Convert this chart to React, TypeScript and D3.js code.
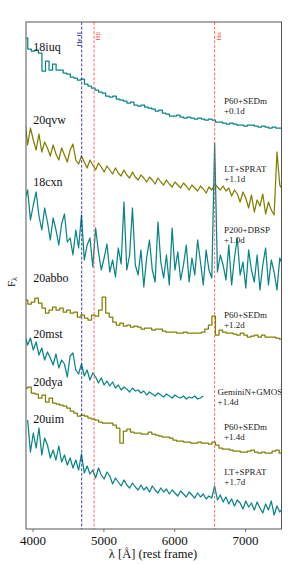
import React from 'react';
import * as d3 from 'd3';

// ---------- data ----------
const names = ['18iuq', '20qvw', '18cxn', '20abbo', '20mst', '20dya', '20uim'];
const instruments = ['P60+SEDm', 'LT+SPRAT', 'P200+DBSP', 'P60+SEDm', 'GeminiN+GMOS', 'P60+SEDm', 'LT+SPRAT'];
const phases = ['+0.1d', '+1.1d', '+1.0d', '+1.2d', '+1.4d', '+1.4d', '+1.7d'];
const lowRes = [true, false, false, true, false, true, false];
const waveStart = [3900, 3883, 3883, 3900, 3883, 3900, 3923];
const waveStep = [50, 40, 40, 50, 40, 50, 40];

const flux18iuq = [5.62,5.51,5.49,5.50,5.47,5.29,5.39,5.30,5.36,5.30,5.30,5.27,5.26,5.23,5.22,5.20,5.21,5.16,5.14,5.12,5.10,5.08,5.07,5.04,5.03,5.04,5.01,5.00,4.99,4.97,4.98,4.95,4.94,4.95,4.93,4.92,4.91,4.89,4.90,4.87,4.86,4.84,4.84,4.85,4.83,4.82,4.83,4.82,4.81,4.82,4.81,4.80,4.81,4.80,4.78,4.78,4.77,4.76,4.77,4.76,4.75,4.75,4.74,4.75,4.75,4.74,4.73,4.74,4.73,4.72,4.73,4.72,4.72];
const flux20qvw = [4.81,4.55,4.72,4.60,4.50,4.66,4.48,4.58,4.52,4.44,4.55,4.46,4.40,4.52,4.45,4.38,4.50,4.56,4.40,4.36,4.44,4.38,4.32,4.40,4.35,4.30,4.37,4.33,4.28,4.34,4.30,4.26,4.32,4.27,4.24,4.30,4.25,4.22,4.28,4.23,4.20,4.25,4.22,4.18,4.23,4.20,4.16,4.22,4.18,4.15,4.20,4.16,4.13,4.18,4.15,4.12,4.17,4.14,4.10,4.15,4.12,4.09,4.14,4.11,4.07,4.13,4.10,4.16,4.13,4.10,4.14,4.09,4.12,4.04,4.10,4.06,3.98,4.08,4.02,3.92,4.05,3.88,4.00,3.94,4.06,3.86,3.98,3.90,3.85,4.48,4.15,4.10];
const flux18cxn = [4.00,4.10,3.80,3.95,4.08,3.84,3.70,3.92,3.78,3.60,3.82,3.70,3.55,3.76,3.86,3.58,3.62,3.45,3.70,3.52,3.85,3.40,3.55,3.62,3.33,3.72,3.48,3.30,3.42,3.56,3.28,3.40,3.23,3.52,3.36,3.98,3.30,3.45,3.92,3.35,3.25,3.50,3.13,3.42,3.60,3.30,3.18,3.78,3.38,3.22,3.45,3.15,3.72,3.30,3.48,3.20,3.35,3.55,3.18,3.42,3.25,3.60,3.38,3.15,3.50,3.30,3.22,4.57,3.28,3.45,3.35,3.20,3.55,3.15,3.42,3.62,3.25,3.38,3.12,3.50,3.30,3.18,3.45,3.10,3.35,3.52,3.15,3.40,3.28,3.10,3.42,3.35];
const flux20abbo = [3.00,2.96,2.98,3.02,2.97,2.92,2.87,2.90,2.93,2.90,2.92,2.88,2.90,2.87,2.88,2.83,2.85,2.82,2.80,2.85,2.84,2.90,3.03,2.87,2.83,2.78,2.75,2.77,2.74,2.75,2.73,2.74,2.73,2.71,2.72,2.72,2.70,2.71,2.71,2.69,2.68,2.68,2.68,2.67,2.67,2.68,2.67,2.67,2.67,2.67,2.68,2.71,2.75,2.84,2.65,2.70,2.68,2.67,2.67,2.66,2.65,2.67,2.65,2.63,2.64,2.65,2.63,2.65,2.63,2.63,2.63,2.62,2.61];
const flux20mst = [2.65,2.55,2.62,2.50,2.58,2.45,2.52,2.40,2.48,2.42,2.35,2.46,2.32,2.40,2.36,2.23,2.44,2.47,2.30,2.26,2.36,2.24,2.30,2.20,2.27,2.23,2.17,2.22,2.15,2.19,2.14,2.18,2.12,2.15,2.10,2.13,2.11,2.08,2.12,2.09,2.10,2.07,2.09,2.05,2.08,2.06,2.04,2.07,2.05,2.03,2.06,2.04,2.02,2.05,2.03,2.02,2.04,2.01,2.03,2.02,2.04,2.01,2.02,2.04];
const flux20dya = [2.12,2.13,2.07,2.06,2.02,2.05,1.98,2.02,1.97,1.96,1.95,1.94,1.92,1.89,1.87,1.84,1.85,1.84,1.82,1.81,1.80,1.78,1.77,1.77,1.77,1.75,1.72,1.57,1.69,1.71,1.68,1.67,1.67,1.66,1.66,1.68,1.66,1.65,1.64,1.63,1.63,1.62,1.60,1.59,1.59,1.58,1.58,1.57,1.57,1.58,1.57,1.57,1.56,1.58,1.55,1.52,1.51,1.51,1.50,1.49,1.49,1.48,1.48,1.49,1.50,1.48,1.47,1.48,1.47,1.47,1.49,1.50,1.47];
const flux20uim = [1.80,1.48,1.67,1.52,1.72,1.45,1.62,1.55,1.42,1.50,1.40,1.54,1.38,1.45,1.35,1.42,1.32,1.40,1.30,1.46,1.27,1.34,1.26,1.30,1.22,1.32,1.25,1.21,1.28,1.24,1.16,1.22,1.18,1.14,1.20,1.15,1.12,1.17,1.13,1.10,1.15,1.10,1.13,1.08,1.14,1.10,1.07,1.12,1.08,1.11,1.06,1.10,1.07,1.04,1.09,1.06,1.03,1.08,1.05,1.02,1.07,1.03,1.06,1.01,1.04,1.02,1.14,1.00,1.05,0.98,1.03,0.96,1.01,0.94,1.00,0.97,0.91,0.99,0.93,0.97,0.90,0.98,0.92,0.87,0.96,0.90,0.99,0.85,0.94,0.88,0.92];
const fluxes = [flux18iuq, flux20qvw, flux18cxn, flux20abbo, flux20mst, flux20dya, flux20uim];

// label anchors (data units)
const nameLabelFlux = [5.495, 4.76, 4.14, 3.185, 2.62, 2.145, 1.775];
const instLabelFlux = [4.96, 4.285, 3.675, 2.82, 2.05, 1.70, 1.25];
const instLabelWave = [6695, 6700, 6695, 6695, 6605, 6695, 6700];

const lineWaves = [4686, 4861, 6563];
const lineNames = ['He II', 'H\u03B2', 'H\u03B1'];

const xTicks = [4000, 5000, 6000, 7000];

// ---------- chart ----------
const W = 299;
const H = 564;
const M = { left: 26, right: 281.5, top: 22, bottom: 529 };
const FONT = "'Liberation Serif', 'Times New Roman', serif";
const TEAL = '#0a8585';
const OLIVE = '#808000';

export default function App() {
  const x = d3.scaleLinear().domain([3900, 7500]).range([M.left, 281]);
  const y = d3.scaleLinear().domain([0.71, 5.78]).range([M.bottom, M.top]);

  const paths = names.map((n, i) => {
    const pts: [number, number][] = fluxes[i].map((f, j) => [waveStart[i] + j * waveStep[i], f]);
    const gen = d3
      .line<[number, number]>()
      .x((d) => x(d[0]))
      .y((d) => y(d[1]))
      .curve(lowRes[i] ? d3.curveStep : d3.curveLinear);
    return gen(pts) || '';
  });

  const lineColors = ['#1c1c9c', '#ff4a4a', '#ff4a4a'];
  const lineLabelDx = [-0.2, 6, 6.5];

  return (
    <svg
      width={W}
      height={H}
      style={{ position: 'absolute', left: 0, top: 0, background: '#fff' }}
      fontFamily={FONT}
    >
      <defs>
        <clipPath id="plotclip">
          <rect x={M.left} y={M.top} width={M.right - M.left} height={M.bottom - M.top} />
        </clipPath>
      </defs>

      <g clipPath="url(#plotclip)">
        {paths.map((d, i) => (
          <path
            key={names[i]}
            d={d}
            fill="none"
            stroke={i % 2 === 0 ? TEAL : OLIVE}
            strokeWidth={1.25}
            strokeLinejoin="round"
          />
        ))}
        {lineWaves.map((w, i) => (
          <line
            key={lineNames[i]}
            x1={x(w)}
            x2={x(w)}
            y1={M.top}
            y2={M.bottom}
            stroke={lineColors[i]}
            strokeWidth={0.9}
            strokeDasharray="3,1.6"
            opacity={0.9}
          />
        ))}
      </g>

      {lineWaves.map((w, i) => (
        <text
          key={'lt' + i}
          transform={`translate(${x(w) + lineLabelDx[i]},32) rotate(-90)`}
          textAnchor="end"
          fontSize={7}
          fill={lineColors[i]}
        >
          {lineNames[i]}
        </text>
      ))}

      {names.map((n, i) => (
        <text key={'nl' + n} x={33.3} y={y(nameLabelFlux[i])} fontSize={12} fill="#111">
          {n}
        </text>
      ))}

      {names.map((n, i) => (
        <text key={'il' + n} x={x(instLabelWave[i])} y={y(instLabelFlux[i])} fontSize={9} fill="#222">
          <tspan>{instruments[i]}</tspan>
          <tspan x={x(instLabelWave[i])} dy={10}>
            {phases[i]}
          </tspan>
        </text>
      ))}

      <rect
        x={M.left}
        y={M.top}
        width={M.right - M.left}
        height={M.bottom - M.top}
        fill="none"
        stroke="#555"
        strokeWidth={1}
      />

      {xTicks.map((t) => (
        <g key={t}>
          <line x1={x(t)} x2={x(t)} y1={M.bottom} y2={M.bottom + 3} stroke="#555" strokeWidth={0.8} />
          <text x={x(t)} y={544.5} textAnchor="middle" fontSize={13} fill="#111">
            {t}
          </text>
        </g>
      ))}

      <text x={153} y={557.5} textAnchor="middle" fontSize={12.5} fill="#111">
        {'\u03BB [\u00C5] (rest frame)'}
      </text>

      <text transform="translate(15,287) rotate(-90)" fontSize={11} fill="#111">
        F
        <tspan dy={2} fontSize={8}>
          {'\u03BB'}
        </tspan>
      </text>
    </svg>
  );
}
